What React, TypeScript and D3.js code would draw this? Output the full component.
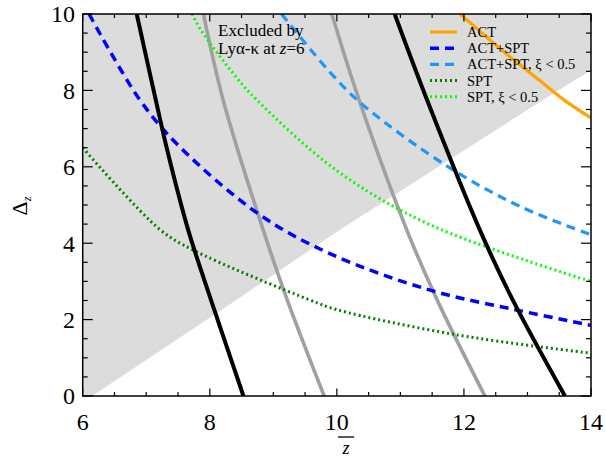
import React from "react";
import * as d3 from "d3";

const zTicks = [6, 8, 10, 12, 14];
const dTicks = [0, 2, 4, 6, 8, 10];

// Excluded region boundary (z, Δ)
const shadeZ = [6.0, 6.15, 8.36, 10.0, 13.24, 14.0];
const shadeD = [0.0, 0.0, 2.45, 4.3, 7.75, 8.53];

// Black / gray contours (z as function of Δ)
const black1Z = [6.85, 7.15, 7.33, 7.66, 8.02, 8.53];
const black1D = [10, 7.75, 6.44, 4.35, 2.51, 0];
const black2Z = [10.91, 11.42, 12.25, 12.77, 13.59];
const black2D = [10, 7.75, 4.35, 2.51, 0];
const gray1Z = [7.9, 8.21, 8.84, 9.22, 9.8];
const gray1D = [10, 7.75, 4.35, 2.51, 0];
const gray2Z = [9.92, 10.35, 11.1, 11.58, 12.33];
const gray2D = [10, 7.75, 4.35, 2.51, 0];

// Legend series
const actZ = [11.94, 12.6, 13.2, 13.6, 14.0];
const actD = [10.0, 9.05, 8.25, 7.72, 7.28];
const actSptZ = [6.1, 6.9, 7.53, 8.79, 9.9, 11.47, 12.83, 14.0];
const actSptD = [10.0, 7.75, 6.52, 4.74, 3.72, 2.77, 2.25, 1.85];
const actSptXiZ = [9.13, 9.89, 10.41, 11.78, 12.9, 14.0];
const actSptXiD = [10.0, 8.48, 7.62, 5.97, 4.95, 4.22];
const sptZ = [6.0, 7.22, 7.74, 9.58, 10.0, 11.89, 14.0];
const sptD = [6.5, 4.35, 3.82, 2.51, 2.26, 1.6, 1.12];
const sptXiZ = [7.72, 7.86, 8.43, 8.74, 10.0, 11.47, 14.0];
const sptXiD = [10.0, 9.58, 8.32, 7.75, 5.9, 4.48, 3.0];

const legendLabels = ["ACT", "ACT+SPT", "ACT+SPT, ξ < 0.5", "SPT", "SPT, ξ < 0.5"];

const L = 82.7, R = 591, T = 14, B = 396;
const FONT = "Liberation Serif, DejaVu Serif, serif";

export default function App() {
  const x = d3.scaleLinear().domain([6, 14]).range([L, R]);
  const y = d3.scaleLinear().domain([0, 10]).range([B, T]);
  const zip = (zs: number[], ds: number[]) => zs.map((z, i) => [z, ds[i]] as [number, number]);
  const line = d3
    .line<[number, number]>()
    .x((p) => x(p[0]))
    .y((p) => y(p[1]))
    .curve(d3.curveCatmullRom.alpha(0.5));
  const lin = d3
    .line<[number, number]>()
    .x((p) => x(p[0]))
    .y((p) => y(p[1]));

  const shadePts: [number, number][] = [...zip(shadeZ, shadeD), [14, 10], [6, 10]];

  const series = [
    { pts: zip(actZ, actD), color: "#FFA500", dash: null, w: 3.2 },
    { pts: zip(actSptZ, actSptD), color: "#0000FF", dash: "9,6", w: 3.5 },
    { pts: zip(actSptXiZ, actSptXiD), color: "#1E96FF", dash: "9,6", w: 3.2 },
    { pts: zip(sptZ, sptD), color: "#008000", dash: "2,3", w: 3 },
    { pts: zip(sptXiZ, sptXiD), color: "#00FF00", dash: "2,3", w: 3 },
  ];

  const xMinor = d3.range(6, 14.001, 0.5);
  const yMinor = d3.range(0, 10.001, 0.5);

  return (
    <svg
      width={606}
      height={458}
      style={{ position: "absolute", left: 0, top: 0, background: "#fff" }}
      fontFamily={FONT}
    >
      <defs>
        <clipPath id="plot">
          <rect x={L} y={T} width={R - L} height={B - T} />
        </clipPath>
      </defs>
      <g clipPath="url(#plot)">
        <path d={lin(shadePts) + "Z"} fill="#DCDCDC" stroke="none" />
        <path d={line(zip(gray1Z, gray1D)) || ""} fill="none" stroke="#A0A0A0" strokeWidth={3.6} />
        <path d={line(zip(gray2Z, gray2D)) || ""} fill="none" stroke="#A0A0A0" strokeWidth={3.6} />
        {series.map((s, i) => (
          <path
            key={i}
            d={line(s.pts) || ""}
            fill="none"
            stroke={s.color}
            strokeWidth={s.w}
            strokeDasharray={s.dash || undefined}
          />
        ))}
        <path d={line(zip(black1Z, black1D)) || ""} fill="none" stroke="#000" strokeWidth={4} />
        <path d={line(zip(black2Z, black2D)) || ""} fill="none" stroke="#000" strokeWidth={4} />
      </g>

      {/* Annotation */}
      <text x={218} y={36} fontSize={17} fill="#000">Excluded by</text>
      <text x={218} y={54} fontSize={17} fill="#000">
        Lyα-κ at <tspan fontStyle="italic">z</tspan>=6
      </text>

      {/* Legend */}
      {series.map((s, i) => {
        const ly = 32 + i * 16.2;
        return (
          <g key={i}>
            <line
              x1={430}
              x2={457}
              y1={ly}
              y2={ly}
              stroke={s.color}
              strokeWidth={s.w}
              strokeDasharray={s.dash || undefined}
            />
            <text x={467} y={ly + 5} fontSize={14.5} fill="#000">
              {legendLabels[i]}
            </text>
          </g>
        );
      })}

      {/* Frame */}
      <rect x={L} y={T} width={R - L} height={B - T} fill="none" stroke="#000" strokeWidth={1.5} />
      {xMinor.map((v, i) => {
        const major = Math.abs(v - Math.round(v / 2) * 2) < 1e-6;
        const len = major ? 7.5 : 4;
        return (
          <g key={"x" + i}>
            <line x1={x(v)} x2={x(v)} y1={B} y2={B - len} stroke="#000" strokeWidth={1.2} />
            <line x1={x(v)} x2={x(v)} y1={T} y2={T + len} stroke="#000" strokeWidth={1.2} />
          </g>
        );
      })}
      {yMinor.map((v, i) => {
        const major = Math.abs(v - Math.round(v / 2) * 2) < 1e-6;
        const len = major ? 10 : 5;
        return (
          <g key={"y" + i}>
            <line x1={L} x2={L + len} y1={y(v)} y2={y(v)} stroke="#000" strokeWidth={1.2} />
            <line x1={R} x2={R - len} y1={y(v)} y2={y(v)} stroke="#000" strokeWidth={1.2} />
          </g>
        );
      })}

      {zTicks.map((v) => (
        <text key={v} x={x(v)} y={430} fontSize={24} textAnchor="middle" fill="#000">
          {v}
        </text>
      ))}
      {dTicks.map((v) => (
        <text key={v} x={75} y={y(v)} dy="0.35em" fontSize={24} textAnchor="end" fill="#000">
          {v}
        </text>
      ))}

      {/* X title: z with overbar */}
      <line x1={338} x2={354} y1={437} y2={437} stroke="#000" strokeWidth={1.3} />
      <text x={346} y={454} fontSize={18} fontStyle="italic" textAnchor="middle" fill="#000">
        z
      </text>

      {/* Y title */}
      <text transform="translate(27,206) rotate(-90)" fontSize={22} textAnchor="middle" fill="#000">
        Δ<tspan fontSize={12} fontStyle="italic" dy={4}>z</tspan>
      </text>
    </svg>
  );
}
